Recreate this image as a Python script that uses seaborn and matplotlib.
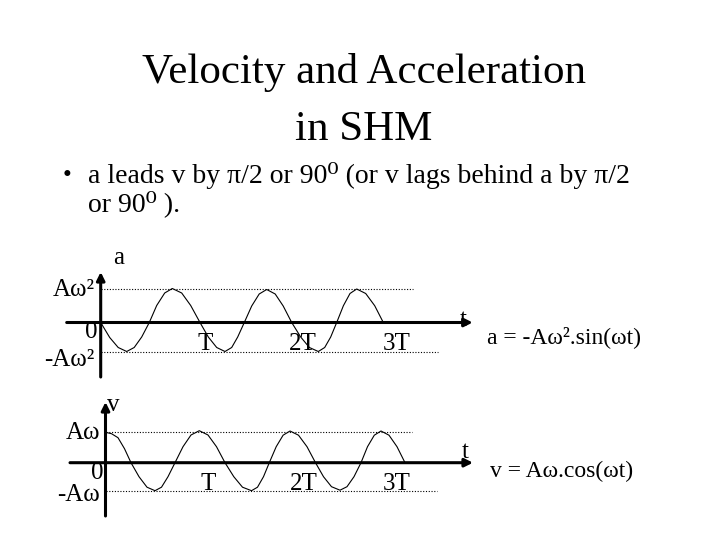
import numpy as np
import pandas as pd
import seaborn as sns
import matplotlib.pyplot as plt

sns.set_style("white")
plt.rcParams['font.family'] = ['Liberation Serif', 'DejaVu Serif']
plt.rcParams['text.color'] = 'black'

# acceleration curve (x: px from the a-axis, y: px above t-axis)
acc_t = [0, 9, 17.5, 26, 33.5, 41, 48.6, 56, 64, 71.6, 81, 90, 99.3, 107.6, 116, 124.3,
         131, 137, 143.6, 151, 158.5, 166, 174.5, 182.5, 191, 200, 208.7, 217.6, 224, 230,
         236, 242.7, 249.3, 256, 265, 274, 282.6]
acc_y = [0, -15, -25, -29, -25, -14.5, 0, 17, 29.5, 34, 29.5, 17, 0, -14.5, -25, -29,
         -25, -14.5, 0, 16.5, 28.5, 33, 28.5, 16.5, 0, -14.5, -25, -29, -25, -14.5,
         0, 16.8, 29, 33.5, 29, 16.8, 0]

# velocity curve
vel_t = [0, 6, 12.5, 19, 25.5, 33.5, 41.5, 49.5, 56, 62.5, 69.5, 77.5, 85.5, 93.8, 102.5,
         111, 119.5, 128.3, 137, 146, 152, 158, 163.8, 170.7, 177.6, 184.5, 193, 201.5,
         210, 218, 226, 234.5, 241.5, 248.5, 255.5, 262, 268.8, 275.5, 283.5, 291.5, 299.5]
vel_y = [30.4, 29, 25, 14, 0, -14, -24.5, -28, -24.5, -14, 0, 16, 27.7, 32, 27.7,
         16, 0, -14, -24.5, -28, -24.5, -14, 0, 16, 27.5, 31.7, 27.5, 16,
         0, -14, -24, -27.5, -24, -14, 0, 16, 27.5, 31.7, 27.5, 16, 0]

period_labels = ['T', '2T', '3T']
acc_label_x = [104.5, 202, 296]
vel_label_x = [102.5, 198, 291]

df_a = pd.DataFrame({'t': acc_t, 'y': acc_y})
df_v = pd.DataFrame({'t': vel_t, 'y': vel_y})

W, H = 720, 540
fig = plt.figure(figsize=(7.2, 5.4), dpi=100)

def fx(x):
    return x / W

def fy(y):
    return 1 - y / H

# title and bullet
fig.text(fx(363.5), fy(83), 'Velocity and Acceleration', ha='center', va='baseline', fontsize=31)
fig.text(fx(363.5), fy(140), 'in SHM', ha='center', va='baseline', fontsize=31)
fig.text(fx(67), fy(176), '•', ha='center', va='center', fontsize=18)
fig.text(fx(88), fy(183), 'a leads v by π/2 or 90⁰ (or v lags behind a by π/2',
         ha='left', va='baseline', fontsize=20)
fig.text(fx(88), fy(211), 'or 90⁰ ).', ha='left', va='baseline', fontsize=20)

lab = 18
dot = dict(color='k', lw=0.8, ls=(0, (1, 1.5)))
arrow = dict(arrowstyle='-|>', lw=2.2, color='k', mutation_scale=12, shrinkA=0, shrinkB=0)

# --- acceleration graph, origin at (100.7, 322.5) px
ox, oy = 100.7, 322.5
ax1 = fig.add_axes([0, fy(400), 1, 160 / H])
ax1.set_xlim(-ox, W - ox)
ax1.set_ylim(oy - 400, oy - 240)
ax1.axis('off')
ax1.plot([0, 312], [33.5, 33.5], **dot)
ax1.plot([0, 337], [-29.5, -29.5], **dot)
ax1.annotate('', xy=(372, 0), xytext=(-34, 0), arrowprops=arrow)
ax1.annotate('', xy=(0, 50.5), xytext=(0, -54.5), arrowprops=arrow)
sns.lineplot(data=df_a, x='t', y='y', ax=ax1, color='k', lw=0.8, sort=False)
ax1.text(-6, 32.5, 'Aω²', ha='right', va='center', fontsize=lab)
ax1.text(-6, -37.5, '-Aω²', ha='right', va='center', fontsize=lab)
ax1.text(-9, -9, '0', ha='center', va='center', fontsize=lab)
ax1.text(18, 64.5, 'a', ha='center', va='center', fontsize=lab)
ax1.text(362, 2.5, 't', ha='center', va='center', fontsize=lab)
for x, s in zip(acc_label_x, period_labels):
    ax1.text(x, -21, s, ha='center', va='center', fontsize=lab)
ax1.text(487 - ox, oy - 343, 'a = -Aω².sin(ωt)', ha='left', va='baseline', fontsize=17)

# --- velocity graph, origin at (105.5, 462.7) px
ox, oy = 105.5, 462.7
ax2 = fig.add_axes([0, fy(535), 1, 140 / H])
ax2.set_xlim(-ox, W - ox)
ax2.set_ylim(oy - 535, oy - 395)
ax2.axis('off')
ax2.plot([0, 306.5], [30.7, 30.7], **dot)
ax2.plot([0, 331.5], [-28.3, -28.3], **dot)
ax2.annotate('', xy=(367.5, 0), xytext=(-35.5, 0), arrowprops=arrow)
ax2.annotate('', xy=(0, 60.7), xytext=(0, -53.3), arrowprops=arrow)
sns.lineplot(data=df_v, x='t', y='y', ax=ax2, color='k', lw=0.8, sort=False)
ax2.text(-5.5, 29.7, 'Aω', ha='right', va='center', fontsize=lab)
ax2.text(-5.5, -32.3, '-Aω', ha='right', va='center', fontsize=lab)
ax2.text(-8.5, -10.5, '0', ha='center', va='center', fontsize=lab)
ax2.text(8, 57.7, 'v', ha='center', va='center', fontsize=lab)
ax2.text(359.5, 10.7, 't', ha='center', va='center', fontsize=lab)
for x, s in zip(vel_label_x, period_labels):
    ax2.text(x, -21.8, s, ha='center', va='center', fontsize=lab)
ax2.text(490 - ox, oy - 477, 'v = Aω.cos(ωt)', ha='left', va='baseline', fontsize=17)

fig.savefig('out.png', dpi=100)
